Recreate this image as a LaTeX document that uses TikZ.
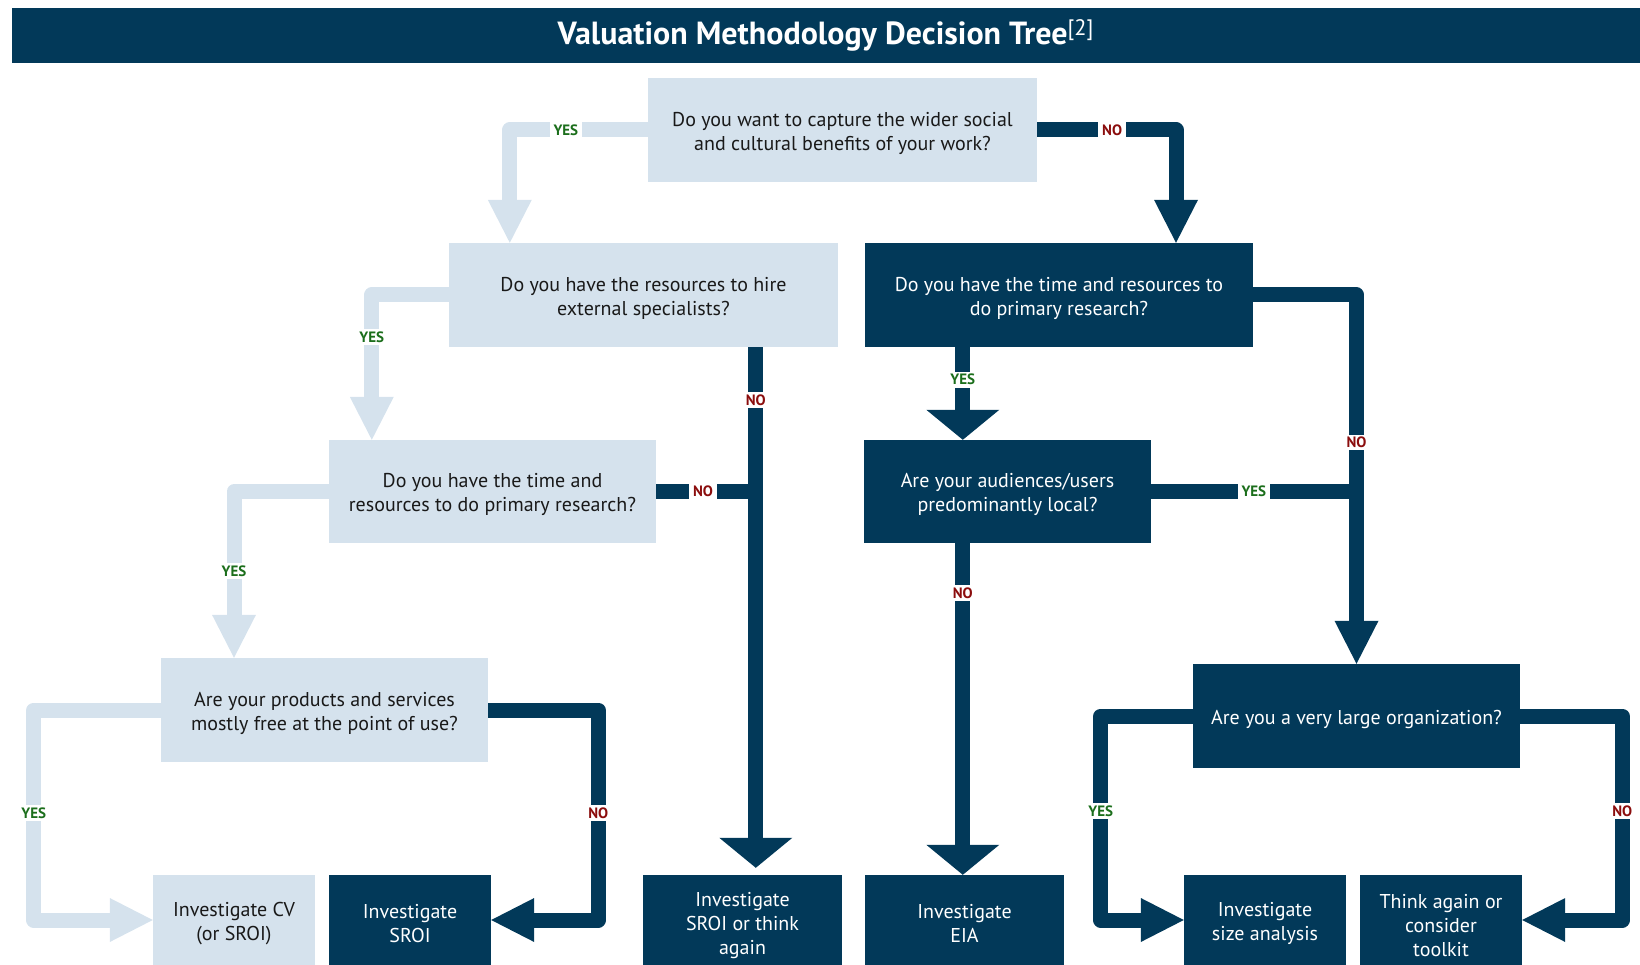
\documentclass[tikz,border=0pt]{standalone}
\usepackage{fontspec}
\setmainfont{PT Sans}
\usetikzlibrary{positioning,arrows.meta,calc}
\definecolor{navy}{HTML}{023959}
\definecolor{pale}{HTML}{D5E2ED}
\definecolor{yesgreen}{HTML}{1B6E1B}
\definecolor{nored}{HTML}{8B0D0D}
\newcommand{\tops}[1][21pt]{\rule{0pt}{#1}}  % taller first line, text sits a bit lower
\tikzset{
  qbox/.style={align=center,inner sep=0pt,font=\fontsize{20}{24}\selectfont},
  qlite/.style={qbox,fill=pale,text=black!90},
  qdark/.style={qbox,fill=navy,text=white},
  % ---- thick flow lines ----
  flow/.style={line width=15pt,line join=round},
  flite/.style={flow,draw=pale,-{Triangle[width=44pt,length=43pt,line width=0pt]}},
  fdark/.style={flow,draw=navy,-{Triangle[width=44pt,length=43pt,line width=0pt]}},
  fwide/.style={flow,draw=navy,-{Triangle[width=73pt,length=30pt,line width=0pt]}},
  fjoin/.style={flow,draw=navy},  % runs into another line
  ans/.style={fill=white,inner xsep=4pt,inner ysep=2.5pt,font=\bfseries\fontsize{15}{15}\selectfont},
  yes/.style={ans,text=yesgreen},
  no/.style={ans,text=nored},
}
\begin{document}
\begin{tikzpicture}[x=1pt,y=-1pt]
  \useasboundingbox (0,0) rectangle (1640,965);
  \node[fill=navy,text=white,font=\bfseries\fontsize{32}{32}\selectfont,
    minimum width=1628.5,minimum height=55,inner sep=0pt] (title) at (825.75,35.5)
    {Valuation Methodology Decision Tree\textsuperscript{\mdseries[2]}};
  % questions
  \node[qlite,minimum width=389,minimum height=104] (wider) at (842.5,130)
    {\tops Do you want to capture the wider social\\and cultural benefits of your work?};
  \node[qlite,minimum width=389,minimum height=104] (hire) at (643.5,295)
    {\tops Do you have the resources to hire\\external specialists?};
  \node[qdark,minimum width=388,minimum height=104] (primR) at (1059,295)
    {\tops Do you have the time and resources to\\do primary research?};
  \node[qlite,minimum width=327,minimum height=103] (primL) at (492.5,491.5)
    {\tops Do you have the time and\\resources to do primary research?};
  \node[qdark,minimum width=287,minimum height=103] (local) at (1007.5,491.5)
    {\tops Are your audiences/users\\predominantly local?};
  \node[qlite,minimum width=327,minimum height=104] (free) at (324.5,710)
    {\tops Are your products and services\\mostly free at the point of use?};
  \node[qdark,minimum width=327,minimum height=104] (large) at (1356.5,716)
    {\tops Are you a very large organization?};
  % outcomes
  \node[qlite,minimum width=162,minimum height=90] (cv) at (234,920) {\tops Investigate CV\\(or SROI)};
  \node[qdark,minimum width=162,minimum height=90] (sroi) at (410,920) {\tops Investigate\\SROI};
  \node[qdark,minimum width=199,minimum height=90] (sroiagain) at (742.5,920) {\tops[25pt]Investigate\\SROI or think\\again};
  \node[qdark,minimum width=199,minimum height=90] (eia) at (964.5,920) {\tops Investigate\\EIA};
  \node[qdark,minimum width=162,minimum height=90] (size) at (1265,920) {\tops Investigate\\size analysis};
  \node[qdark,minimum width=162,minimum height=90] (toolkit) at (1441,920) {\tops[25pt]Think again or\\consider\\toolkit};
  % answers
  \draw[flite] (wider.west) -| node[yes,pos=0.297]{YES} ([xshift=61pt]hire.north west);
  \draw[fdark] (wider.east) -| node[no,pos=0.27]{NO} ([xshift=117pt]primR.north);
  \draw[flite] (hire.west) -| node[yes,pos=0.645]{YES} ([xshift=43pt]primL.north west);
  \coordinate (hno) at ([xshift=307pt]hire.south west);
  \draw[fwide,shorten >=7pt] (hno) -- node[no,pos=0.1]{NO} (hno |- sroiagain.north);
  \draw[fjoin] (primL.east) -- node[no,pos=0.47]{NO} (primL.east -| hno);
  \draw[flite] (primL.west) -| node[yes,pos=0.74]{YES} (free.north -| cv.north);
  \draw[flite] (free.west) -- ++(-127,0) |- node[yes,pos=0.245]{YES} (cv.west);
  \draw[fdark] (free.east) -- ++(110,0) |- node[no,pos=0.245]{NO} (sroi.east);
  \coordinate (pyes) at ([xshift=98pt]primR.south west);
  \draw[fwide] (pyes) -- node[yes,pos=0.35]{YES} (pyes |- local.north);
  \draw[fdark] (primR.east) -| node[no,pos=0.70]{NO} (large.north);
  \draw[fjoin] (local.east) -- node[yes,pos=0.5]{YES} (local.east -| large.north);
  \draw[fwide] (pyes |- local.south) -- node[no,pos=0.15]{NO} (pyes |- eia.north);
  \draw[fdark] (large.west) -- ++(-92,0) |- node[yes,pos=0.233]{YES} (size.west);
  \draw[fdark] (large.east) -- ++(102,0) |- node[no,pos=0.233]{NO} (toolkit.east);
\end{tikzpicture}
\end{document}
